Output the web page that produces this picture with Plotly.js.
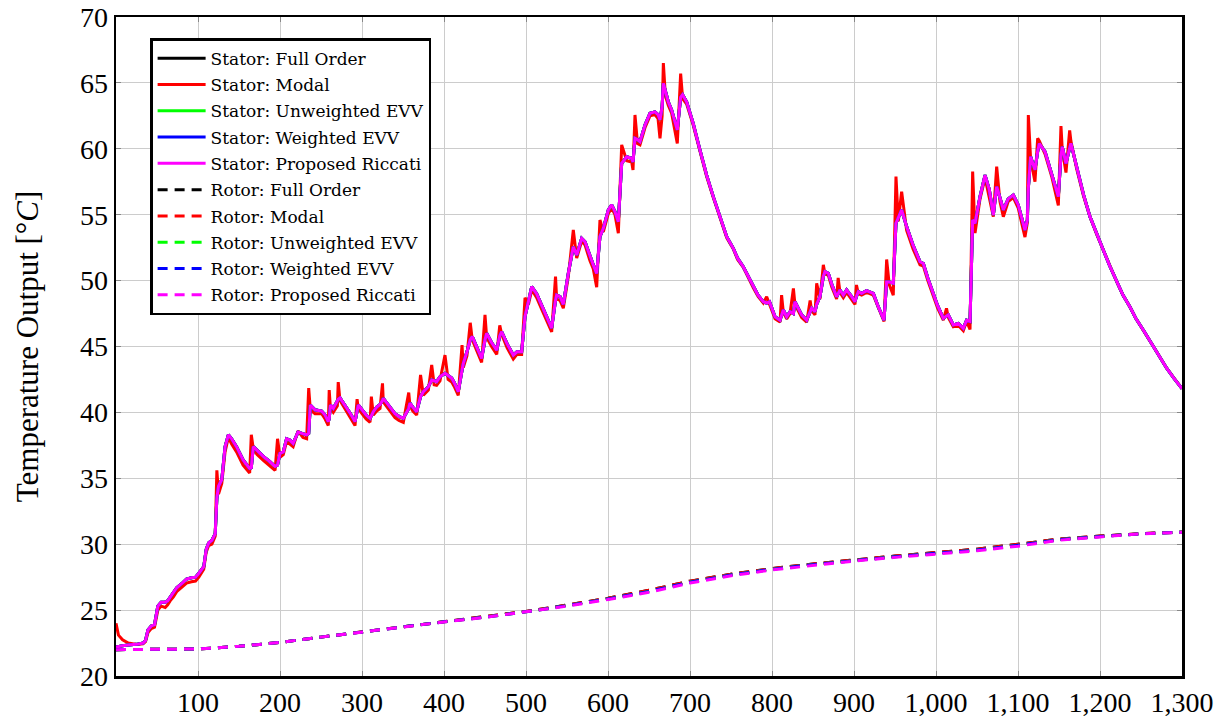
<!DOCTYPE html>
<html>
<head>
<meta charset="utf-8">
<script src="https://cdn.plot.ly/plotly-3.0.1.min.js"></script>
<style>
  html, body { margin: 0; padding: 0; background: #ffffff; }
  #chart { width: 1225px; height: 719px; }
</style>
</head>
<body>
<div id="chart"></div>
<script>
// Stator temperature: time grid and the responses of each model
const statorTime = [0,3,8,15,25,33,36,39,43,47,51,55,60,63,66,70,74,80,86,92,97,101,105,107,110,113,117,120,121,123,125,129,133,137,141,147,155,163,165,167.5,172,180,187,194,197,200,204,208,212,216,222,228,232.5,235,237,242.7,250.8,255,258.9,260,261.5,265,270,271,273.2,280,286,291.5,294,295.5,300,305,309.8,311.4,313.8,317.9,322,325,326,333,340.2,345,350.4,357,358.5,362,366.7,371.4,374.8,380.9,385,388,391,395.1,401.2,405,409.4,413,417.4,422,423.5,428,432,434.5,440,445.9,450,452,458,464.3,468,470.4,477,484.5,489,494.7,498.8,503,507,513,520,526,531.3,536,537.4,541.5,545.5,551.6,557.7,561.8,567.9,572,578,582,586.2,590.2,594.3,600.4,604.5,608.5,612.6,616.7,622.8,628.9,630.5,632.9,636,639,645.1,651.2,657.3,661,663.4,666,667.5,670,673.5,677.6,684.5,688.6,691,695.9,703.9,712.2,720.3,728.4,736.6,744.8,752.8,758,765,771,777.2,783,789.4,793.5,797,803.7,809.8,811.7,813.8,817.9,822,826.1,828,832,836.2,842.3,846.5,848.4,852.4,854.5,858.5,862.6,864.6,868.7,873,878.8,880.7,882.9,887,891,897.2,901.2,903,905.3,909.3,915.4,923.6,929.7,936.6,939.8,943,947.9,951.2,954,958.1,964.2,972,980.5,984.6,990,996.7,1002,1008.9,1012.8,1015,1021.1,1027.2,1033.3,1037.3,1041.5,1044.7,1047.6,1053.7,1059.8,1065,1069.9,1074,1078,1082.1,1088,1094.3,1100.3,1108.5,1111.4,1112.6,1115.4,1120.7,1124,1126,1133,1141.1,1149.2,1152.4,1154,1158.5,1163,1164.5,1171.5,1180,1187.8,1196,1204,1212,1220.3,1228,1236.6,1244,1252.8,1261,1269.1,1281.3,1290,1300];

const statorFull = [22.2,22.25,22.3,22.35,22.4,22.5,22.7,23.5,23.8,23.9,25.3,25.6,25.6,25.7,26.0,26.3,26.7,27.0,27.35,27.45,27.5,27.8,28.2,28.3,29.6,30.1,30.3,30.6,30.8,33.5,34.4,34.9,37.4,38.3,38.0,37.4,36.4,35.75,35.8,37.4,37.1,36.65,36.3,35.9,36.0,36.9,37.0,38.0,37.9,37.65,38.5,38.4,38.3,38.4,40.56,40.2,40.1,39.8,39.3,39.5,40.56,40.3,40.8,41.0,41.1,40.5,39.9,39.3,40.0,40.56,40.2,39.8,39.55,39.8,40.05,40.4,40.6,40.9,41.07,40.5,39.9,39.7,39.55,40.3,40.7,40.4,40.05,41.2,41.57,41.95,42.46,42.4,42.33,42.7,42.97,42.8,42.6,42.2,41.57,43.2,43.7,44.6,45.5,45.75,45.0,44.1,45.5,46.0,45.3,44.73,45.8,46.12,45.2,44.35,44.6,44.6,47.26,48.5,49.54,49.0,48.0,47.2,46.4,48.5,48.9,48.78,48.2,50.55,52.57,51.94,53.2,52.95,51.8,51.2,50.55,53.33,53.97,55.36,55.74,55.23,54.47,58.9,59.4,59.28,59.0,60.8,60.7,60.54,61.8,62.7,62.8,62.6,62.2,63.2,64.97,64.3,63.57,62.94,61.43,63.9,64.1,63.57,61.93,59.9,58.0,56.37,54.85,53.33,52.45,51.7,51.05,50.3,49.54,48.9,48.4,48.3,48.4,47.26,47.0,47.3,47.77,47.26,47.64,47.5,48.4,47.9,47.4,47.0,47.7,47.9,47.64,48.2,48.78,50.3,50.68,50.56,49.7,48.78,49.0,49.29,48.9,49.29,48.78,48.4,48.8,49.16,49.03,49.24,49.03,48.0,47.0,49.9,49.9,49.8,54.35,54.8,55.36,54.1,52.7,51.43,51.3,50.2,49.03,48.1,47.14,47.3,47.4,46.63,46.75,46.38,47.0,46.9,54.6,54.35,56.37,58.0,56.9,54.98,57.13,56.3,55.36,56.2,56.5,55.74,53.84,54.6,57.0,59.4,58.4,59.8,60.4,59.78,58.14,56.37,59.5,60.15,58.9,60.0,60.42,58.65,56.5,54.85,53.5,52.32,51.1,49.92,48.9,48.0,47.1,46.25,45.4,44.6,43.35,42.6,41.8];

const statorModal = [24.0,23.1,22.75,22.5,22.4,22.45,22.6,23.3,23.6,23.7,25.0,25.3,25.2,25.4,25.7,26.0,26.4,26.7,27.05,27.15,27.2,27.5,27.9,28.1,29.4,29.9,30.0,30.4,30.6,35.6,33.8,34.6,37.0,38.1,37.6,37.0,36.0,35.4,38.3,37.2,36.8,36.35,36.0,35.6,38.0,36.6,36.8,37.8,37.6,37.4,38.6,38.1,38.0,41.85,40.2,39.9,39.9,39.5,39.0,41.7,40.3,40.0,40.5,42.3,40.9,40.2,39.6,39.0,41.0,40.3,39.9,39.5,39.25,41.2,39.8,40.1,40.3,42.2,40.8,40.2,39.6,39.4,39.25,41.5,40.5,40.1,39.8,42.84,41.3,41.7,43.6,42.1,42.05,42.4,44.35,42.5,42.3,41.9,41.3,45.1,43.4,44.3,46.8,45.5,44.7,43.8,47.4,45.7,45.0,44.4,46.6,45.9,44.9,44.05,44.4,44.4,48.7,48.2,49.3,48.7,47.7,46.9,46.1,50.3,48.6,48.5,47.9,50.3,53.84,51.7,53.0,52.7,51.5,50.9,49.5,54.6,53.7,55.1,55.5,55.0,53.6,60.3,59.1,59.0,58.4,62.57,60.4,60.3,61.6,62.5,62.6,62.3,60.8,62.5,66.5,64.0,63.3,62.7,60.4,65.7,63.8,63.4,61.8,59.8,57.9,56.3,54.8,53.25,52.4,51.6,51.0,50.2,49.45,48.8,48.3,48.78,48.2,47.1,46.85,48.9,47.6,47.1,47.5,49.4,48.2,47.7,47.2,46.85,48.5,47.7,47.4,49.8,48.6,51.2,50.5,50.4,49.5,48.6,50.2,49.1,48.7,49.1,48.6,48.2,49.67,49.0,48.9,49.1,48.9,47.9,46.9,51.6,49.7,48.9,57.9,54.5,56.75,53.8,52.4,51.2,51.1,50.0,48.85,47.9,47.0,47.9,47.2,46.5,46.6,46.2,46.9,46.3,58.27,53.6,56.2,57.8,56.3,54.85,58.65,56.0,54.85,56.0,56.3,55.5,53.3,54.4,62.56,59.2,57.5,60.8,60.6,59.6,57.9,55.7,61.73,59.9,58.2,61.4,60.6,58.5,56.4,54.85,53.5,52.32,51.1,49.92,48.9,48.0,47.1,46.25,45.4,44.6,43.35,42.6,41.8];

// The balanced reduced models follow the full-order stator response
const statorUnweighted = statorFull;
const statorWeighted = statorFull;
const statorRiccati = statorFull;

// Rotor temperature
const rotorTime = [0,50,100,150,200,250,300,350,400,450,500,550,600,650,700,750,800,850,900,950,1000,1050,1100,1150,1200,1250,1300];
const rotorFull = [22.0,22.0,22.05,22.25,22.55,22.95,23.35,23.72,24.12,24.5,24.9,25.38,25.9,26.5,27.2,27.72,28.15,28.5,28.82,29.1,29.37,29.62,30.0,30.38,30.62,30.8,30.92];
const rotorModal = rotorFull;
const rotorEVV = [22.0,22.0,22.05,22.25,22.55,22.95,23.35,23.71,24.11,24.47,24.87,25.34,25.85,26.42,27.12,27.66,28.1,28.45,28.77,29.05,29.31,29.56,29.92,30.34,30.58,30.79,30.91];
const rotorRiccati = [22.0,22.0,22.05,22.25,22.55,22.95,23.35,23.7,24.1,24.45,24.85,25.3,25.8,26.35,27.05,27.6,28.05,28.4,28.72,29.0,29.25,29.5,29.85,30.3,30.55,30.78,30.9];

const seriesNames = ['Full Order', 'Modal', 'Unweighted EVV', 'Weighted EVV', 'Proposed Riccati'];
const seriesColors = ['#000000', '#ff0000', '#00ff00', '#0000ff', '#ff00ff'];
const statorSeries = [statorFull, statorModal, statorUnweighted, statorWeighted, statorRiccati];
const rotorSeries = [rotorFull, rotorModal, rotorEVV, rotorEVV, rotorRiccati];

const xTickVals = [100,200,300,400,500,600,700,800,900,1000,1100,1200,1300];
const xTickText = ['100','200','300','400','500','600','700','800','900','1,000','1,100','1,200','1,300'];
const yTickVals = [20,25,30,35,40,45,50,55,60,65,70];

const traces = [];
statorSeries.forEach((ys, i) => {
  traces.push({
    type: 'scatter', mode: 'lines',
    x: statorTime, y: ys,
    name: 'Stator: ' + seriesNames[i],
    legendgroup: 's' + i,
    line: { color: seriesColors[i], width: 3 }
  });
});
rotorSeries.forEach((ys, i) => {
  traces.push({
    type: 'scatter', mode: 'lines',
    x: rotorTime, y: ys,
    name: 'Rotor: ' + seriesNames[i],
    legendgroup: 'r' + i,
    line: { color: seriesColors[i], width: 3, dash: '10px,7px' }
  });
});

const serif = 'Liberation Serif, DejaVu Serif, serif';

const layout = {
  width: 1225, height: 719,
  margin: { l: 116, r: 43, t: 17, b: 43 },
  paper_bgcolor: '#ffffff', plot_bgcolor: '#ffffff',
  showlegend: true,
  xaxis: {
    range: [0, 1300],
    tickmode: 'array', tickvals: xTickVals, ticktext: xTickText,
    showgrid: true, gridcolor: '#cccccc', gridwidth: 1,
    zeroline: false,
    showline: true, linecolor: '#000000', linewidth: 2.5, mirror: 'ticks',
    ticks: 'inside', ticklen: 5, tickcolor: '#888888', tickwidth: 1,
    tickfont: { family: serif, size: 28, color: '#000000' }
  },
  yaxis: {
    range: [20, 70],
    tickmode: 'array', tickvals: yTickVals,
    showgrid: true, gridcolor: '#cccccc', gridwidth: 1,
    zeroline: false,
    showline: true, linecolor: '#000000', linewidth: 2.5, mirror: 'ticks',
    ticks: 'inside', ticklen: 5, tickcolor: '#888888', tickwidth: 1,
    tickfont: { family: serif, size: 28, color: '#000000' },
    title: {
      text: 'Temperature Output [°<i>C</i>]',
      font: { family: serif, size: 31, color: '#000000' },
      standoff: 32
    }
  },
  legend: {
    x: 0.032, y: 0.968, xanchor: 'left', yanchor: 'top',
    bgcolor: '#ffffff', bordercolor: '#000000', borderwidth: 2.5,
    font: { family: 'DejaVu Serif, serif', size: 17, color: '#000000' },
    traceorder: 'grouped', tracegroupgap: 1.2,
    itemwidth: 48
  }
};

Plotly.newPlot('chart', traces, layout, { staticPlot: true, displayModeBar: false });
</script>
</body>
</html>
